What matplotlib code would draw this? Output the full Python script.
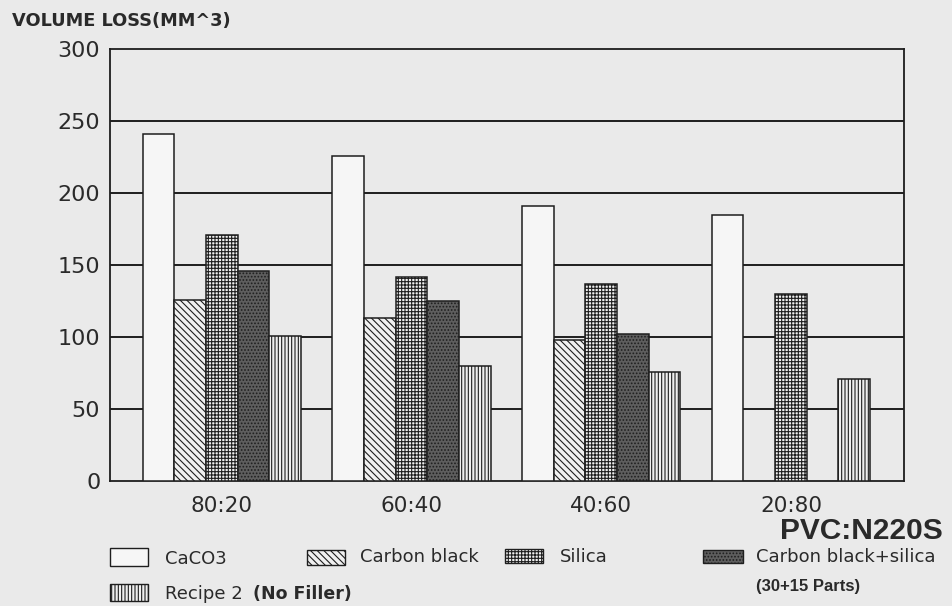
import numpy as np
import matplotlib
matplotlib.use("Agg")
import matplotlib.pyplot as plt
from matplotlib.patches import Rectangle

plt.rcParams['font.family'] = ['DejaVu Sans']
plt.rcParams['hatch.linewidth'] = 0.8

categories = ["80:20", "60:40", "40:60", "20:80"]
series_names = ["CaCO3", "Carbon black", "Silica", "Carbon black+silica", "Recipe 2 (No Filler)"]
caco3 = [241, 226, 191, 185]
carbon_black = [126, 113, 98, np.nan]
silica = [171, 142, 137, 130]
cb_silica = [146, 125, 102, np.nan]
recipe2 = [101, 80, 76, 71]
yticks = [0, 50, 100, 150, 200, 250, 300]

series = [caco3, carbon_black, silica, cb_silica, recipe2]
styles = [
    dict(facecolor='#f6f6f6', hatch=None),
    dict(facecolor='#f0f0f0', hatch='\\\\\\\\\\'),
    dict(facecolor='#f0f0f0', hatch='+++++'),
    dict(facecolor='#5e5e5e', hatch='.....'),
    dict(facecolor='#f0f0f0', hatch='|||||'),
]

BG = '#eaeaea'
INK = '#1e1e1e'
W, H = 953, 606
fig = plt.figure(figsize=(W / 100, H / 100), dpi=100, facecolor=BG)

def fx(x):
    return x / W

def fy(y):
    return 1 - y / H

ax = fig.add_axes([fx(110), fy(481), fx(904) - fx(110), fy(49) - fy(481)])
ax.set_facecolor(BG)

x = np.arange(len(categories))
bw = 0.167
for i, (vals, st) in enumerate(zip(series, styles)):
    offs = (i - 2) * bw
    ax.bar(x + offs, vals, width=bw, color=st['facecolor'], hatch=st['hatch'],
           edgecolor=INK, linewidth=1.1, zorder=3, label=series_names[i])

ax.set_xlim(-0.59, 3.596)
ax.set_ylim(0, 300)
ax.set_yticks(yticks)
ax.set_xticks(x)
ax.set_xticklabels(categories)
for y in yticks[1:-1]:
    ax.axhline(y, color=INK, linewidth=1.4, zorder=1)
for s in ax.spines.values():
    s.set_color(INK)
    s.set_linewidth(1.3)
ax.tick_params(axis='both', length=0, colors='#2a2a2a')
ax.tick_params(axis='y', pad=7, labelsize=16)
ax.tick_params(axis='x', pad=11, labelsize=15.5)

fig.text(fx(12), fy(21), "VOLUME LOSS(MM^3)", fontsize=12.8, fontweight='bold',
         va='center', ha='left', color='#2a2a2a')
fig.text(fx(943), fy(531), "PVC:N220S", fontsize=21.5, fontweight='bold',
         family='Liberation Sans', va='center', ha='right', color='#2a2a2a')

# legend (manual layout)
def box(x0, y0, x1, y1, st):
    r = Rectangle((fx(x0), fy(y1)), fx(x1) - fx(x0), fy(y0) - fy(y1),
                  transform=fig.transFigure, facecolor=st['facecolor'],
                  hatch=st['hatch'], edgecolor=INK, linewidth=1.0)
    fig.add_artist(r)

LFS = 13
box(110, 548, 148, 566, styles[0])
fig.text(fx(165), fy(559), "CaCO3", fontsize=LFS, va='center', color='#2a2a2a')
box(307, 550, 345, 565, styles[1])
fig.text(fx(360), fy(557), "Carbon black", fontsize=LFS, va='center', color='#2a2a2a')
box(505, 549, 543, 563, styles[2])
fig.text(fx(560), fy(557), "Silica", fontsize=LFS, va='center', color='#2a2a2a')
box(703, 550, 743, 563, styles[3])
fig.text(fx(756), fy(557), "Carbon black+silica", fontsize=LFS, va='center', color='#2a2a2a')
fig.text(fx(756), fy(586), "(30+15 Parts)", fontsize=12, fontweight='bold',
         family='Liberation Sans', va='center', color='#2a2a2a')
box(110, 584, 148, 601, styles[4])
fig.text(fx(165), fy(594), "Recipe 2", fontsize=LFS, va='center', color='#2a2a2a')
fig.text(fx(253), fy(594), "(No Filler)", fontsize=12.5, fontweight='bold',
         va='center', color='#2a2a2a')

fig.savefig("out.png", dpi=100, facecolor=BG)
